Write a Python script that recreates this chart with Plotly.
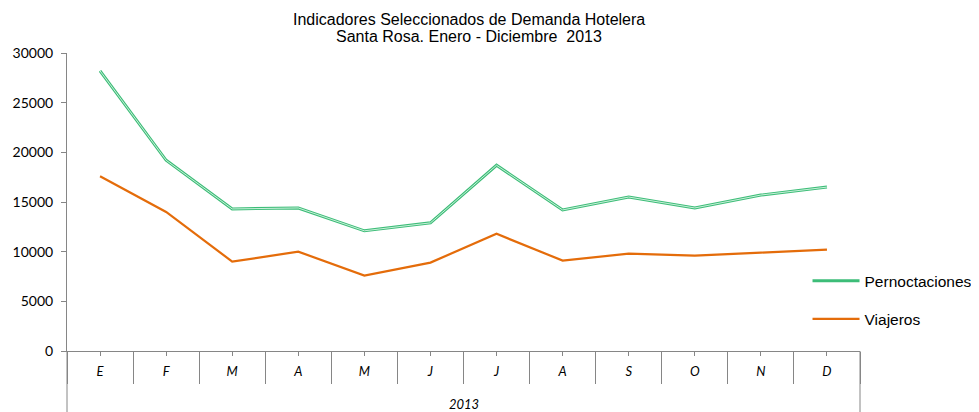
import plotly.graph_objects as go

months = ["E", "F", "M", "A", "M", "J", "J", "A", "S", "O", "N", "D"]
year = "2013"
title_lines = ["Indicadores Seleccionados de Demanda Hotelera", "Santa Rosa. Enero - Diciembre  2013"]
pernoctaciones = [28200, 19200, 14300, 14400, 12100, 12900, 18700, 14200, 15500, 14400, 15700, 16500]
viajeros = [17600, 14000, 9000, 10000, 7600, 8900, 11800, 9100, 9800, 9600, 9900, 10200]
y_ticks = [0, 5000, 10000, 15000, 20000, 25000, 30000]

xpos = list(range(len(months)))
AXIS = "#868686"
TXT = "Liberation Sans, Arial"

fig = go.Figure()
fig.add_trace(go.Scatter(x=xpos, y=pernoctaciones, mode="lines", name="Pernoctaciones",
                         legendgroup="p", line=dict(color="#3dbd78", width=3)))
fig.add_trace(go.Scatter(x=xpos, y=pernoctaciones, mode="lines", showlegend=False, hoverinfo="skip",
                         legendgroup="p", line=dict(color="#c9f0da", width=1)))
fig.add_trace(go.Scatter(x=xpos, y=viajeros, mode="lines", name="Viajeros",
                         legendgroup="v", line=dict(color="#e46c0a", width=2.2)))

# title (two lines)
for txt, yp in zip(title_lines, (1.111, 1.054)):
    fig.add_annotation(text=txt, xref="paper", yref="paper", x=0.507, y=yp, xanchor="center",
                       yanchor="middle", showarrow=False, font=dict(family=TXT, size=16, color="black"))
# group label
fig.add_annotation(text=year, xref="x", yref="paper", x=(len(months) - 1) / 2, y=-0.178,
                   xanchor="center", yanchor="middle", showarrow=False,
                   font=dict(family="Lato, Open Sans", size=13, style="italic", color="black"))
# group boundaries (full-depth dividers)
for xp in (0, 1):
    fig.add_shape(type="line", xref="paper", yref="paper", x0=xp, x1=xp, y0=0, y1=-0.22,
                  line=dict(color=AXIS, width=1))

fig.update_layout(
    width=971, height=404,
    margin=dict(l=59, r=119, t=45, b=61, autoexpand=False),
    paper_bgcolor="white", plot_bgcolor="white",
    font=dict(family=TXT, size=15, color="black"),
    showlegend=True,
    legend=dict(xref="container", yref="container", x=0.8234, xanchor="left", y=0.277, yanchor="middle",
                tracegroupgap=15, itemwidth=47, font=dict(family=TXT, size=15.5),
                bgcolor="rgba(0,0,0,0)"),
    xaxis=dict(range=[-0.5, len(months) - 0.5], tickvals=xpos, ticktext=months,
               showline=True, linecolor=AXIS, linewidth=1, automargin=False,
               ticks="outside", ticklen=4, tickcolor=AXIS, showgrid=False, zeroline=False,
               ticklabelstandoff=4,
               minor=dict(tick0=0.5, dtick=1, ticks="outside", ticklen=32, tickcolor=AXIS, showgrid=False),
               tickfont=dict(family="Lato, Open Sans", size=13, style="italic")),
    yaxis=dict(range=[0, 30000], tickvals=y_ticks, tickformat="d", showline=True, linecolor=AXIS,
               ticks="outside", ticklen=5, tickcolor=AXIS, showgrid=False, zeroline=False,
               ticklabelstandoff=5, automargin=False,
               tickfont=dict(family="Lato, Open Sans", size=14)),
)

fig.write_html("out.html")
